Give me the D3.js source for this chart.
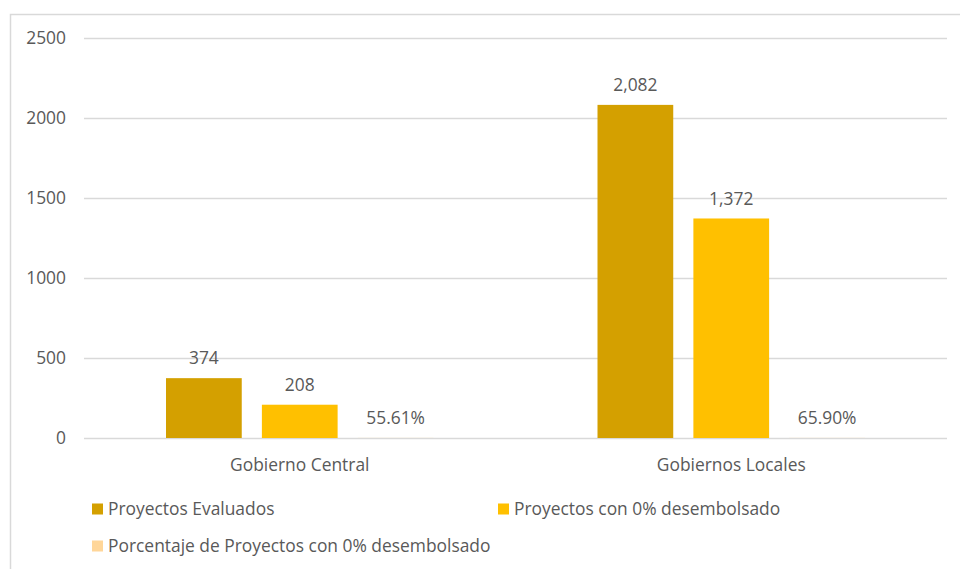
<!DOCTYPE html>
<html>
<head>
<meta charset="utf-8">
<script src="https://cdn.jsdelivr.net/npm/d3@7"></script>
<style>
  html, body { margin: 0; padding: 0; background: #fff; }
  svg { display: block; }
  text { font-family: "Open Sans", "Noto Sans", sans-serif; fill: #595959; }
</style>
</head>
<body>
<svg id="chart" width="960" height="569"></svg>
<script>
// Categories and series
const categories = ["Gobierno Central", "Gobiernos Locales"];
const seriesNames = [
  "Proyectos Evaluados",
  "Proyectos con 0% desembolsado",
  "Porcentaje de Proyectos con 0% desembolsado"
];
const evaluados = [374, 2082];
const sinDesembolso = [208, 1372];
const porcentaje = [0.5561, 0.6590];
const yTicks = [0, 500, 1000, 1500, 2000, 2500];
const colors = ["#D4A000", "#FFC000", "#FFD699"];

const seriesValues = [evaluados, sinDesembolso, porcentaje];
const fmtCount = d3.format(",");
const fmtPct = d3.format(".2%");
const formatters = [fmtCount, fmtCount, fmtPct];
const fontSize = 17.4;

const svg = d3.select("#chart");

// Outer chart frame (runs off the right and bottom edges)
svg.append("rect")
  .attr("x", 10.5).attr("y", 14.5)
  .attr("width", 980).attr("height", 600)
  .attr("fill", "none").attr("stroke", "#D9D9D9").attr("stroke-width", 1.5);

const plotLeft = 84, plotRight = 947;
const y = d3.scaleLinear().domain([0, 2500]).range([438, 38]);

const x0 = d3.scaleBand().domain(categories).range([plotLeft, plotRight])
  .paddingInner(0).paddingOuter(0);
const groupPad = 82;
const x1 = d3.scaleBand().domain(d3.range(seriesNames.length))
  .range([groupPad, x0.bandwidth() - groupPad]).paddingInner(0.21).paddingOuter(0);

// Gridlines and tick labels
const yAxis = d3.axisLeft(y).tickValues(yTicks).tickSize(-(plotRight - plotLeft)).tickPadding(18)
  .tickFormat(d3.format("d"));
const gy = svg.append("g").attr("transform", `translate(${plotLeft},0)`).call(yAxis);
gy.select(".domain").remove();
gy.selectAll(".tick line").attr("stroke", "#D9D9D9").attr("stroke-width", 1.5);
gy.selectAll(".tick text").attr("font-size", fontSize).attr("fill", "#595959")
  .style("font-family", "'Open Sans', 'Noto Sans', sans-serif");

// Bars with value labels
const groups = svg.append("g").selectAll("g").data(categories).join("g")
  .attr("transform", d => `translate(${x0(d)},0)`);

groups.each(function(cat, ci) {
  const g = d3.select(this);
  seriesValues.forEach((vals, si) => {
    const v = vals[ci];
    g.append("rect")
      .attr("x", x1(si)).attr("width", x1.bandwidth())
      .attr("y", y(v)).attr("height", y(0) - y(v))
      .attr("fill", colors[si]);
    g.append("text")
      .attr("x", x1(si) + x1.bandwidth() / 2)
      .attr("y", y(v) - 20)
      .attr("dy", "0.35em")
      .attr("text-anchor", "middle")
      .attr("font-size", fontSize)
      .text(formatters[si](v));
  });
});

// Category axis labels
svg.append("g").selectAll("text").data(categories).join("text")
  .attr("x", d => x0(d) + x0.bandwidth() / 2)
  .attr("y", 465).attr("dy", "0.35em")
  .attr("text-anchor", "middle").attr("font-size", fontSize)
  .text(d => d);

// Legend
const legendPos = [[92, 509], [498, 509], [92, 546]];
const legend = svg.append("g").selectAll("g").data(seriesNames).join("g")
  .attr("transform", (d, i) => `translate(${legendPos[i][0]},${legendPos[i][1]})`);
legend.append("rect").attr("x", 0).attr("y", -5.5).attr("width", 11).attr("height", 11)
  .attr("fill", (d, i) => colors[i]);
legend.append("text").attr("x", 16).attr("y", 0).attr("dy", "0.35em")
  .attr("font-size", fontSize).text(d => d);
</script>
</body>
</html>
